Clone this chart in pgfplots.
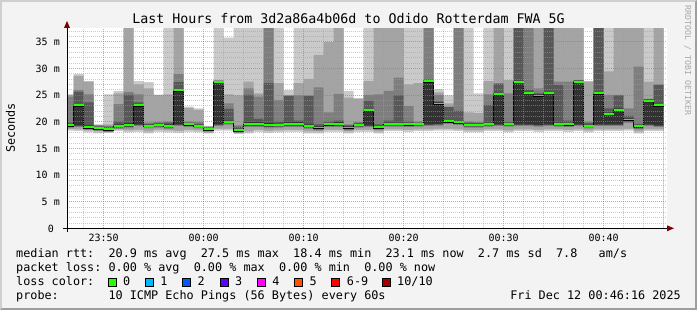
\documentclass[border=0pt]{standalone}
\usepackage{fontspec}
\setmainfont{DejaVu Sans Mono}
\usepackage{pgfplots}
\usepackage{pgfplotstable}
\pgfplotsset{compat=1.18}

\definecolor{sA}{HTML}{CACACA}
\definecolor{sB}{HTML}{A4A4A4}
\definecolor{sC}{HTML}{7E7E7E}
\definecolor{sD}{HTML}{585858}
\definecolor{sE}{HTML}{323232}
\definecolor{lgreen}{HTML}{26FF00}
\definecolor{lcA}{HTML}{00B8FF}
\definecolor{lcB}{HTML}{0059FF}
\definecolor{lcC}{HTML}{5E00FF}
\definecolor{lcD}{HTML}{FF00FE}
\definecolor{lcE}{HTML}{FF5500}
\definecolor{lcF}{HTML}{FF0000}
\definecolor{lcG}{HTML}{A10000}
\definecolor{arrowc}{HTML}{7F0000}
\definecolor{bgc}{HTML}{F3F3F3}
\definecolor{shA}{HTML}{CFCFCF}
\definecolor{shB}{HTML}{9E9E9E}
\definecolor{gridc}{HTML}{A0A0A0}
\definecolor{mgridc}{HTML}{E05A5A}
\definecolor{wmark}{HTML}{A8A8A8}

\newcommand{\legfont}{\fontsize{11.8}{14}\selectfont}
\newcommand{\axfont}{\fontsize{10}{12}\selectfont}
\newcommand{\titfont}{\fontsize{13.3}{16}\selectfont}

% x = minute start relative to 00:00, p1..p10 sorted pings (ms), med = median (ms)
\pgfplotstableread{
x   p1   p2    p3    p4    p5   p6    p7    p8    p9    p10   med
-14 18.3 18.65 18.75 18.95 19.1 19.5  19.8  24.7  25.0  25.1  19.3
-13 18.2 18.55 18.95 19.15 19.3 23.3  25.6  25.9  28.6  28.9  23.1
-12 18.0 18.35 18.45 18.65 18.8 19.3  23.6  25.1  27.5  27.6  19.0
-11 17.8 18.15 18.25 18.45 18.6 18.9  19.1  19.3  19.4  19.5  18.75
-10 17.9 18.0  18.05 18.25 18.4 18.8  19.0  19.2  19.5  25.1  18.6
-9  18.2 18.55 18.65 18.85 19.0 19.5  20.0  23.3  25.3  25.75 19.25
-8  18.0 18.35 18.75 18.95 19.1 19.7  25.0  25.6  40    40    19.4
-7  18.1 18.45 19.15 19.35 19.5 23.3  23.6  25.1  27.0  27.6  23.1
-6  17.8 18.15 18.75 18.95 19.1 19.4  19.6  19.8  26.25 27.4  19.25
-5  18.1 18.45 18.85 19.05 19.2 19.5  19.7  19.9  25.0  25.0  19.4
-4  18.0 18.35 18.65 18.85 19.0 19.5  19.8  20.0  25.1  40    19.25
-3  17.9 18.25 19.15 19.35 19.5 26.1  27.4  28.9  40    40    25.9
-2  18.1 18.45 18.95 19.15 19.3 19.6  19.8  20.0  22.6  22.8  19.5
-1  18.0 18.35 18.75 18.95 19.1 19.4  19.6  19.9  22.2  22.5  19.25
0   17.8 17.9  18.15 18.35 18.5 18.7  18.9  19.0  19.1  19.2  18.6
1   18.3 18.65 19.15 19.35 19.5 27.6  27.65 27.7  27.8  40    27.5
2   18.3 18.65 19.45 19.65 19.8 20.2  22.4  23.4  25.1  35.75 20.0
3   17.7 17.8  17.85 18.05 18.2 18.6  19.0  19.3  24.9  40    18.4
4   17.8 18.15 18.95 19.15 19.3 19.9  25.0  26.25 27.5  40    19.6
5   18.1 18.45 18.95 19.15 19.3 19.9  20.5  24.7  25.3  40    19.6
6   17.9 18.25 18.75 18.95 19.1 19.7  27.2  40    40    40    19.4
7   18.0 18.35 18.85 19.05 19.2 19.6  20.0  24.1  27.2  40    19.4
8   18.1 18.45 18.95 19.15 19.3 19.9  24.8  24.9  24.9  25.9  19.6
9   18.1 18.45 18.95 19.15 19.3 19.9  20.2  24.9  27.2  40    19.6
10  17.8 18.15 18.65 18.85 19.0 19.5  24.8  24.9  28.0  40    19.25
11  17.8 18.15 18.35 18.55 18.7 19.1  19.5  26.4  32.5  40    18.9
12  18.1 18.45 18.95 19.15 19.3 19.7  20.0  21.75 34.9  40    19.5
13  18.1 18.45 18.95 19.15 19.3 19.9  20.2  25.2  40    40    19.6
14  17.8 18.15 18.35 18.55 18.7 19.1  19.3  19.5  24.5  25.75 18.9
15  18.1 18.45 18.85 19.05 19.2 19.5  19.7  19.9  24.25 24.4  19.4
16  18.1 18.45 18.95 19.15 19.3 22.4  23.9  25.0  27.6  40    22.2
17  17.8 18.15 18.45 18.65 18.8 19.2  19.5  25.1  40    40    19.0
18  18.2 18.55 19.05 19.25 19.4 19.8  20.2  25.75 40    40    19.6
19  18.2 18.55 19.05 19.25 19.4 19.8  24.9  28.25 40    40    19.6
20  18.1 18.45 18.95 19.15 19.3 19.7  20.0  22.9  27.0  40    19.5
21  18.2 18.55 19.05 19.25 19.4 19.7  19.8  20.0  27.2  40    19.6
22  18.2 18.55 19.15 19.35 19.5 27.8  27.9  40    40    40    27.6
23  18.3 18.65 19.25 19.45 19.6 23.6  23.8  25.0  25.5  26.1  23.4
24  18.3 18.65 19.55 19.75 19.9 20.3  22.7  22.8  23.4  24.9  20.1
25  18.2 18.55 19.35 19.55 19.7 20.1  22.0  40    40    40    19.9
26  18.0 18.35 18.85 19.05 19.2 19.6  19.8  20.0  21.75 40    19.4
27  18.0 18.35 18.85 19.05 19.2 19.6  19.7  19.9  21.6  25.3  19.4
28  18.2 18.55 19.05 19.25 19.4 19.8  23.1  25.1  27.6  40    19.6
29  18.2 18.55 19.15 19.35 19.5 25.4  27.1  27.2  40    40    25.2
30  18.0 18.35 19.05 19.25 19.4 19.7  19.9  25.3  27.8  40    19.6
31  18.2 18.55 19.15 19.35 19.5 27.7  40    40    40    40    27.5
32  18.2 18.55 19.15 19.35 19.5 25.6  26.0  40    40    40    25.4
33  18.1 18.45 19.05 19.25 19.4 25.1  25.3  26.25 40    40    24.9
34  18.2 18.55 19.15 19.35 19.5 25.6  40    40    40    40    25.4
35  18.2 18.55 19.05 19.25 19.4 19.8  26.9  27.5  40    40    19.6
36  18.1 18.45 18.95 19.15 19.3 19.7  20.2  27.5  40    40    19.5
37  18.2 18.55 19.15 19.35 19.5 27.7  27.7  27.8  40    40    27.5
38  18.0 18.35 18.75 18.95 19.1 19.4  19.7  20.0  27.5  27.6  19.25
39  18.2 18.55 19.15 19.35 19.5 25.5  40    40    40    40    25.3
40  18.2 18.55 19.15 19.35 19.5 21.7  22.5  25.0  29.4  40    21.5
41  18.2 18.55 19.15 19.35 19.5 22.5  24.9  25.0  40    40    22.25
42  18.3 18.65 19.75 19.95 20.1 20.6  21.1  22.5  40    40    20.4
43  17.8 18.15 18.55 18.75 18.9 19.3  19.6  30.3  40    40    19.1
44  18.2 18.55 19.15 19.35 19.5 24.1  24.2  24.25 27.5  40    23.9
45  18.2 18.55 18.95 19.15 19.3 23.3  26.9  27.0  40    40    23.1
46  18.2 18.55 18.95 19.15 19.3 23.3  26.9  27.0  40    40    23.1
}\smoke

\begin{document}
\begin{tikzpicture}[x=1pt,y=1pt]
% frame
\fill[shB] (0,0) rectangle (697,310);
\fill[shA] (0,0) -- (0,310) -- (697,310) -- (695,308) -- (2,308) -- (2,2) -- cycle;
\fill[bgc] (2,2) rectangle (695,308);

\begin{scope}[shift={(67,81.7)}]
\begin{axis}[
  scale only axis,
  width=600pt, height=200pt,
  xmin=-13.6667, xmax=46.3333, ymin=0, ymax=37.5,
  axis on top, clip marker paths=true,
  axis line style={draw=none},
  axis background/.style={fill=white},
  xtick={-10,0,10,20,30,40},
  xticklabels={23:50,00:00,00:10,00:20,00:30,00:40},
  minor xtick={-12,-8,-6,-4,-2,2,4,6,8,12,14,16,18,22,24,26,28,32,34,36,38,42,44,46},
  ytick={0,5,10,15,20,25,30,35},
  yticklabels={0~~,5~m,10~m,15~m,20~m,25~m,30~m,35~m},
  minor ytick={1,2,3,4,6,7,8,9,11,12,13,14,16,17,18,19,21,22,23,24,26,27,28,29,31,32,33,34,36,37},
  grid=both,
  major grid style={mgridc, draw opacity=0.65, line width=0.8pt, dash pattern=on 1pt off 1pt},
  minor grid style={gridc, draw opacity=0.55, line width=0.8pt, dash pattern=on 1pt off 1pt},
  major tick length=0pt, minor tick length=0pt,
  xticklabel style={font=\axfont, anchor=base, inner sep=0pt, yshift=-12.8pt},
  yticklabel style={font=\axfont, anchor=base east, inner sep=0pt, xshift=-7pt, yshift=-4pt},
]
\addplot[const plot, draw=none, fill=sA] table[x=x, y=p10] {\smoke} \closedcycle;
\addplot[const plot, draw=none, fill=sB] table[x=x, y=p9] {\smoke} \closedcycle;
\addplot[const plot, draw=none, fill=sC] table[x=x, y=p8] {\smoke} \closedcycle;
\addplot[const plot, draw=none, fill=sD] table[x=x, y=p7] {\smoke} \closedcycle;
\addplot[const plot, draw=none, fill=sE] table[x=x, y=p6] {\smoke} \closedcycle;
\addplot[const plot, draw=none, fill=sD] table[x=x, y=p5] {\smoke} \closedcycle;
\addplot[const plot, draw=none, fill=sC] table[x=x, y=p4] {\smoke} \closedcycle;
\addplot[const plot, draw=none, fill=sB] table[x=x, y=p3] {\smoke} \closedcycle;
\addplot[const plot, draw=none, fill=sA] table[x=x, y=p2] {\smoke} \closedcycle;
\addplot[const plot, draw=none, fill=white] table[x=x, y=p1] {\smoke} \closedcycle;
% median step line and loss-coloured median
\addplot[const plot, draw=black, line width=0.8pt]
  table[x=x, y expr=\thisrow{med}-0.2] {\smoke};
\addplot[only marks, mark=-, mark size=5pt, mark options={line width=1.9pt, draw=lgreen},
  skip coords between index={60}{61}]
  table[x expr=\thisrow{x}+0.5, y=med] {\smoke};
\end{axis}
\end{scope}

% axes with arrows
\draw[black, line width=1pt] (67,78) -- (67,283);
\draw[black, line width=1pt] (63,81.7) -- (668,81.7);
\fill[arrowc] (67,289) -- (64,282) -- (70,282) -- cycle;
\fill[arrowc] (674,81.7) -- (667,84.7) -- (667,78.7) -- cycle;

% title, unit label, watermark
\node[anchor=base, inner sep=0pt, font=\titfont] at (348.5,286) {Last Hours from 3d2a86a4b06d to Odido Rotterdam FWA 5G};
\node[anchor=base, inner sep=0pt, rotate=90, font=\legfont] at (15,182) {Seconds};
\node[anchor=base west, inner sep=0pt, rotate=-90, font=\fontsize{8.3}{10}\selectfont, text=wmark] at (685,305) {RRDTOOL / TOBI OETIKER};

% legend
\node[anchor=base west, inner sep=0pt, font=\legfont] at (16,52) {median~rtt:~~20.9~ms~avg~~27.5~ms~max~~18.4~ms~min~~23.1~ms~now~~2.7~ms~sd~~7.8~~~am/s};
\node[anchor=base west, inner sep=0pt, font=\legfont] at (16,38) {packet~loss:~0.00~\%~avg~~0.00~\%~max~~0.00~\%~min~~0.00~\%~now};
\node[anchor=base west, inner sep=0pt, font=\legfont] at (16,24) {loss~color:};
\node[anchor=base west, inner sep=0pt, font=\legfont] at (16,10) {probe:~~~~~~~10~ICMP~Echo~Pings~(56~Bytes)~every~60s};
\node[anchor=base east, inner sep=0pt, font=\legfont] at (681,10) {Fri~Dec~12~00:46:16~2025};

\foreach \i/\c/\t in {0/lgreen/0, 1/lcA/1, 2/lcB/2, 3/lcC/3, 4/lcD/4, 5/lcE/5, 6/lcF/6-9}{
  \filldraw[fill=\c, draw=black, line width=0.8pt] (108+37.3*\i,23.7) rectangle ++(8,8);
  \node[anchor=base west, inner sep=0pt, font=\legfont] at (122.9+37.3*\i,24) {\t};
}
\filldraw[fill=lcG, draw=black, line width=0.8pt] (382.2,23.7) rectangle ++(8,8);
\node[anchor=base west, inner sep=0pt, font=\legfont] at (397,24) {10/10};
\end{tikzpicture}
\end{document}
